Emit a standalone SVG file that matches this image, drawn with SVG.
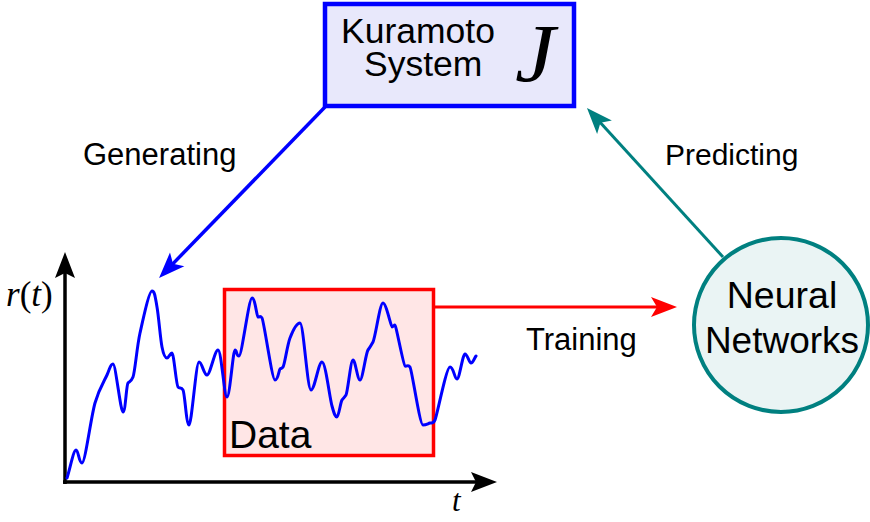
<svg xmlns="http://www.w3.org/2000/svg" width="870" height="522" viewBox="0 0 870 522">
  <style>
    .sans { font-family: "Liberation Sans", Arial, sans-serif; fill: #000; }
    .math { font-family: "Liberation Serif", "Times New Roman", serif; fill: #000; }
    .it { font-style: italic; }
    .axis { stroke: #000; stroke-width: 3.5; fill: none; }
  </style>
  <defs>
    <marker id="headBlue" markerUnits="userSpaceOnUse" viewBox="-27 -11 28 22" markerWidth="28" markerHeight="22" refX="-18" refY="0" orient="auto">
      <path d="M0,0 L-26,-10 L-20,0 L-26,10 Z" fill="#0000ff"/>
    </marker>
    <marker id="headRed" markerUnits="userSpaceOnUse" viewBox="-27 -11 28 22" markerWidth="28" markerHeight="22" refX="-18" refY="0" orient="auto">
      <path d="M0,0 L-26,-10 L-20,0 L-26,10 Z" fill="#ff0000"/>
    </marker>
    <marker id="headTeal" markerUnits="userSpaceOnUse" viewBox="-27 -11 28 22" markerWidth="28" markerHeight="22" refX="-18" refY="0" orient="auto">
      <path d="M0,0 L-26,-10 L-20,0 L-26,10 Z" fill="#008080"/>
    </marker>
  </defs>

  <rect width="870" height="522" fill="#fff"/>

  <!-- plot axes -->
  <g id="axes">
    <line class="axis" x1="65" y1="484" x2="65" y2="272"/>
    <path d="M65,252 L55,278 L65,273 L75,278 Z" fill="#000"/>
    <line class="axis" x1="63" y1="482" x2="476" y2="482"/>
    <path d="M497,482 L471,472 L476,482 L471,492 Z" fill="#000"/>
    <text class="math it" x="6" y="306" font-size="35">r<tspan font-style="normal">(</tspan>t<tspan font-style="normal">)</tspan></text>
    <text class="math it" x="452" y="511" font-size="31">t</text>
  </g>

  <!-- data window -->
  <g id="data">
    <rect x="224.5" y="289.5" width="209" height="166" fill="#ffe6e6" stroke="#ff0000" stroke-width="3.5"/>
  </g>

  <!-- r(t) trace -->
  <g id="trace">
    <path fill="none" stroke="#0000ff" stroke-width="3" stroke-linejoin="round" stroke-linecap="round"
      d="M67,478 C70,468.7 73.5,450 76,450 C78.5,450 78.83,463 82,463 C85.17,463 90.83,417.67 95,403
         C99.17,388.33 104,381.5 107,375 C110,368.5 110.33,364 113,364 C115.67,364 120.5,412 123,412
         C125.5,412 126.33,385 128,383 C129.67,381 131,382 133,377 C135,372 136.83,347.33 140,333
         C143.17,318.67 149.17,291 152,291 C154.83,291 155.33,297.67 157,307 C158.67,316.33 160.33,338.5 162,347
         C163.67,355.5 165.33,358 167,358 C168.67,358 170.17,353 172,353 C173.83,353 176.17,385 178,387
         C179.83,389 181.17,387 183,390 C184.83,393 186.33,425 189,425 C191.67,425 196,362 199,362
         C202,362 203.83,375 207,375 C210.17,375 214.67,350 218,350 C221.33,350 224.17,397 227,397
         C229.83,397 233,350 235,350 C237,350 236.17,356 239,356 C241.83,356 248.83,298 252,298
         C255.17,298 256.67,316.5 258,317 C259.33,317.5 260,315 262,318 C264,321 272,380 275,380
         C278,380 279,370 280,369 C281,368 281.33,369 283,367 C284.67,365 287.17,345.33 290,338
         C292.83,330.67 296.5,323 300,323 C303.5,323 307.33,390 311,390 C314.67,390 318.5,362 322,362
         C325.5,362 329.5,396.83 332,406 C334.5,415.17 335.33,417 337,417 C338.67,417 340.5,402 342,400
         C343.5,398 344.17,398 346,395 C347.83,392 350.67,360 353,360 C355.33,360 357.5,380 360,380
         C362.5,380 365.83,353 368,350 C370.17,347 370.5,346.5 373,342 C375.5,337.5 379.83,303 383,303
         C386.17,303 391,327 392,327 C393,327 394,325 395,325 C396,325 403.33,365 405,366
         C406.67,367 408,364 410,367 C412,370 419.67,425 423,425 C426.33,425 428,423.5 430,423
         C432,422.5 433,424 435,420 C437,416 446.33,367 450,367 C453.67,367 454.5,379 457,379
         C459.5,379 462.67,354 465,354 C467.33,354 469.17,363 471,363 C472.83,363 474.3,358.3 476,356"/>
    <text class="sans" x="229" y="448" font-size="39">Data</text>
  </g>

  <!-- Kuramoto system node -->
  <g id="kuramoto">
    <rect x="325" y="4" width="249" height="102" fill="#e8e8fb" stroke="#0000ff" stroke-width="4.5"/>
    <text class="sans" x="341" y="43" font-size="35.5">Kuramoto</text>
    <text class="sans" x="364" y="76" font-size="35.5">System</text>
    <text class="math it" font-size="82" text-anchor="middle" transform="translate(535,81) scale(1.1,1)">J</text>
  </g>

  <!-- neural network node -->
  <g id="neural">
    <circle cx="781" cy="325" r="87" fill="#eaf4f4" stroke="#008080" stroke-width="4"/>
    <text class="sans" x="782" y="308" font-size="37.5" text-anchor="middle">Neural</text>
    <text class="sans" x="782" y="353" font-size="37" text-anchor="middle">Networks</text>
  </g>

  <!-- connectors -->
  <g id="connectors" fill="none">
    <line x1="325" y1="107" x2="171.6" y2="265.1" stroke="#0000ff" stroke-width="3.5" marker-end="url(#headBlue)"/>
    <line x1="435" y1="307" x2="659" y2="307" stroke="#ff0000" stroke-width="3" marker-end="url(#headRed)"/>
    <line x1="723" y1="257" x2="599.1" y2="121.3" stroke="#008080" stroke-width="3" marker-end="url(#headTeal)"/>
  </g>

  <!-- connector labels -->
  <g id="labels">
    <text class="sans" x="83" y="165" font-size="31">Generating</text>
    <text class="sans" x="665" y="165" font-size="30">Predicting</text>
    <text class="sans" x="526" y="350" font-size="31">Training</text>
  </g>
</svg>
